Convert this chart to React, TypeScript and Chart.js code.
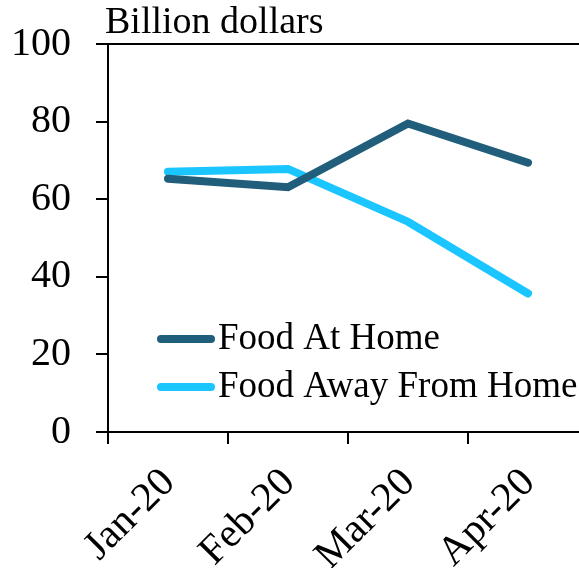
import React, { useEffect, useRef } from "react";
import { Chart, registerables } from "chart.js";

Chart.register(...registerables);

const categories = ["Jan-20", "Feb-20", "Mar-20", "Apr-20"];
const foodAtHome = [65.3, 63.1, 79.5, 69.4];
const foodAwayFromHome = [67.1, 67.8, 54.2, 35.7];
const seriesNames = ["Food At Home", "Food Away From Home"];
const seriesColors = ["#205E7B", "#1BC5FF"];
const yMin = 0;
const yMax = 100;
const yStep = 20;
const axisTitle = "Billion dollars";

const FONT = "'Liberation Serif', 'Times New Roman', serif";

const overlayPlugin = {
  id: "overlay",
  afterDraw(chart: any) {
    const { ctx, chartArea } = chart;
    ctx.save();
    ctx.fillStyle = "#000";
    ctx.textAlign = "left";
    ctx.textBaseline = "alphabetic";
    ctx.font = `38px ${FONT}`;
    ctx.fillText(axisTitle, chartArea.left - 3, chartArea.top - 11);
    ctx.font = `37px ${FONT}`;
    chart.data.datasets.forEach((ds: any, i: number) => {
      const ly = chartArea.top + 295 + i * 48;
      ctx.strokeStyle = ds.borderColor;
      ctx.lineWidth = 8;
      ctx.lineCap = "round";
      ctx.beginPath();
      ctx.moveTo(chartArea.left + 53, ly);
      ctx.lineTo(chartArea.left + 103, ly);
      ctx.stroke();
      ctx.fillStyle = "#000";
      ctx.fillText(ds.label, chartArea.left + 110, ly + 10);
    });
    ctx.restore();
  },
};

export default function App() {
  const ref = useRef<HTMLCanvasElement>(null);
  useEffect(() => {
    if (!ref.current) return;
    const chart = new Chart(ref.current, {
      type: "line",
      data: {
        labels: categories,
        datasets: [
          {
            label: seriesNames[0],
            data: foodAtHome,
            borderColor: seriesColors[0],
            backgroundColor: seriesColors[0],
            borderWidth: 8,
            pointRadius: 0,
            tension: 0,
            borderCapStyle: "round",
          },
          {
            label: seriesNames[1],
            data: foodAwayFromHome,
            borderColor: seriesColors[1],
            backgroundColor: seriesColors[1],
            borderWidth: 8,
            pointRadius: 0,
            tension: 0,
            borderCapStyle: "round",
          },
        ],
      },
      options: {
        responsive: false,
        animation: false,
        layout: { padding: { top: 44, right: 12, left: 0, bottom: 0 } },
        plugins: {
          legend: { display: false },
          tooltip: { enabled: false },
          title: { display: false },
        },
        scales: {
          x: {
            type: "category",
            offset: true,
            grid: {
              offset: true,
              drawOnChartArea: false,
              drawTicks: true,
              tickLength: 12,
              tickColor: "#000",
              tickWidth: 2,
              lineWidth: 2,
              color: "rgba(0,0,0,0)",
            },
            border: { display: true, color: "#000", width: 2 },
            ticks: {
              color: "#000",
              font: { family: FONT, size: 41 },
              minRotation: 45,
              maxRotation: 45,
              padding: 15,
              labelOffset: 1,
              autoSkip: false,
            },
            afterFit: (s: any) => {
              s.height = 136;
              s.paddingTop = 0;
              s.paddingBottom = 0;
              s.paddingLeft = 0;
              s.paddingRight = 0;
            },
          },
          y: {
            min: yMin,
            max: yMax,
            grid: {
              drawTicks: true,
              tickLength: 12,
              tickColor: "#000",
              tickWidth: 2,
              lineWidth: 2,
              color: (c: any) => (c.tick && c.tick.value === yMax ? "#000" : "rgba(0,0,0,0)"),
            },
            border: { display: true, color: "#000", width: 2 },
            ticks: {
              stepSize: yStep,
              color: "#000",
              font: { family: FONT, size: 40 },
              padding: 25,
            },
            afterFit: (s: any) => {
              s.width = 108;
              s.paddingTop = 0;
              s.paddingBottom = 0;
              s.paddingLeft = 0;
              s.paddingRight = 0;
            },
          },
        },
      },
      plugins: [overlayPlugin],
    } as any);
    return () => chart.destroy();
  }, []);
  return (
    <div style={{ position: "fixed", left: 0, top: 0, width: 579, height: 568, overflow: "hidden", background: "#fff" }}>
      <canvas ref={ref} width={600} height={568} style={{ display: "block" }} />
    </div>
  );
}
